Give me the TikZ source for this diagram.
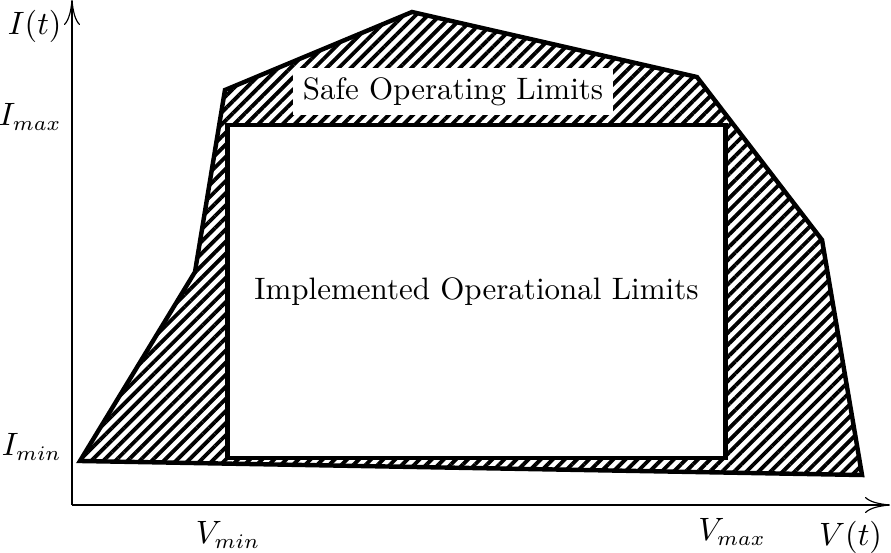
\documentclass[tikz,border=0pt]{standalone}
\usetikzlibrary{arrows.meta, patterns.meta, calc}

\begin{document}
\begin{tikzpicture}[
    >={To[length=8.5pt, width=5.5pt]},
    font=\fontsize{10.5}{12.6}\selectfont,
    axis/.style={->},
    limit/.style={line width=1.5pt, line join=miter},
    hatched/.style={pattern={Lines[angle=45, distance=2.9pt, line width=1.3pt]}},
]

\useasboundingbox (-0.857,-0.560) rectangle (9.750,6.012);

% =============================================================================
% Safe operating area and implemented limits
% =============================================================================

% --- Corners of the safe operating area ---
\coordinate (P1) at (0.095, 0.524);
\coordinate (P2) at (1.464, 2.774);
\coordinate (P3) at (1.821, 4.940);
\coordinate (P4) at (4.048, 5.869);
\coordinate (P5) at (7.440, 5.095);
\coordinate (P6) at (8.929, 3.155);
\coordinate (P7) at (9.405, 0.357);

% --- Corners of the implemented window ---
\coordinate (Rll) at (1.851, 0.560);
\coordinate (Rur) at (7.780, 4.524);

% Hatched safe region
\draw[limit, hatched] (P1) -- (P2) -- (P3) -- (P4) -- (P5) -- (P6) -- (P7) -- cycle;

% Implemented operational window
\draw[limit, fill=white] (Rll) rectangle (Rur);

\node (safe) [fill=white, inner sep=3.3pt] at (4.536, 4.923) {Safe Operating Limits};
\node (impl) at ($(Rll)!0.5!(Rur)$) {Implemented Operational Limits};

% =============================================================================
% Axes
% =============================================================================
\coordinate (O) at (0,0);
\coordinate (Vend) at (9.738,0);
\coordinate (Iend) at (0,6.012);

\draw[axis] (O) -- (Vend);
\draw[axis] (O) -- (Iend);

\node (vlabel) [anchor=north east, inner sep=2pt] at (9.720,-0.120) {$V(t)$};
\node (ilabel) [left] at (0, 5.70) {$I(t)$};

\node (imax) [left] at (0, 4.62) {$I_{max}$};
\node (imin) [left] at (0, 0.69) {$I_{min}$};

\node (vmin) [below=2pt] at (1.857, 0) {$V_{min}$};
\node (vmax) [below=1pt] at (7.857, 0) {$V_{max}$};

\end{tikzpicture}
\end{document}
